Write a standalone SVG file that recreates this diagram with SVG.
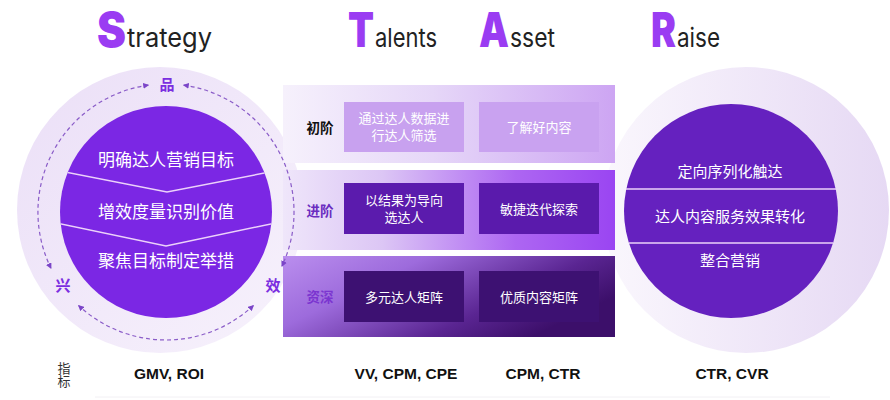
<svg xmlns="http://www.w3.org/2000/svg" width="890" height="400" viewBox="0 0 890 400">
<defs>
<style>
.big{font-family:Inter,"Liberation Sans",sans-serif;font-weight:900;font-size:48px;fill:#9a3cf2}
.sm{font-family:Inter,"Liberation Sans",sans-serif;font-weight:400;font-size:26px;fill:#222}
.cn{font-family:"Noto Sans CJK SC","Noto Sans",sans-serif}
.ctext{font-size:17px;fill:#fff;text-anchor:middle}
.rtext{font-size:15px;fill:#fff;text-anchor:middle}
.btext{font-size:13px;fill:#fff;text-anchor:middle}
.lbl{font-size:13.5px;font-weight:700;text-anchor:middle}
.mark{font-size:15px;font-weight:700;fill:#7b2ee0;text-anchor:middle}
.metric{font-family:"Liberation Sans",Arial,sans-serif;font-weight:700;font-size:15.5px;fill:#111;text-anchor:middle}
.dash{fill:none;stroke:#8a5cc8;stroke-width:1.2;stroke-dasharray:4 3;marker-start:url(#ah);marker-end:url(#ah)}
.div{fill:none;stroke:#ecd2fa;stroke-width:1.5}
</style>
<marker id="ah" viewBox="0 0 6 6" refX="5" refY="3" markerWidth="6" markerHeight="6" markerUnits="userSpaceOnUse" orient="auto-start-reverse">
<path d="M0,0 L6,3 L0,6 z" fill="#7b45c8"/>
</marker>
<linearGradient id="gL" x1="0" y1="0" x2="1" y2="1">
<stop offset="0" stop-color="#ebdff7"/><stop offset="1" stop-color="#f7f2fc"/>
</linearGradient>
<linearGradient id="gR" x1="0" y1="0" x2="1" y2="0">
<stop offset="0" stop-color="#faf7fd"/><stop offset="1" stop-color="#e6d9f4"/>
</linearGradient>
<linearGradient id="g1" x1="0" y1="0" x2="1" y2="0">
<stop offset="0" stop-color="#f6f1fc"/><stop offset="0.45" stop-color="#e6d7f8"/><stop offset="1" stop-color="#cda5f3"/>
</linearGradient>
<linearGradient id="g2" x1="0" y1="0" x2="1" y2="0">
<stop offset="0" stop-color="#efe6fa"/><stop offset="0.3" stop-color="#dcc6f5"/><stop offset="0.7" stop-color="#ad66f2"/><stop offset="1" stop-color="#9a45f2"/>
</linearGradient>
<linearGradient id="g3" x1="0" y1="0" x2="1" y2="0.5">
<stop offset="0" stop-color="#ba8eee"/><stop offset="0.35" stop-color="#9d6bdc"/><stop offset="0.75" stop-color="#5a2592"/><stop offset="1" stop-color="#3c0f6a"/>
</linearGradient>
<clipPath id="cl"><circle cx="166" cy="212" r="106"/></clipPath>
</defs>
<rect width="890" height="400" fill="#fff"/>

<!-- titles -->
<g id="title-strategy">
<text class="big" x="97" y="47" textLength="29" lengthAdjust="spacingAndGlyphs">S</text>
<text class="sm" x="127" y="47" textLength="85" lengthAdjust="spacingAndGlyphs">trategy</text>
</g>
<g id="title-talents">
<text class="big" x="348" y="47" textLength="26" lengthAdjust="spacingAndGlyphs">T</text>
<text class="sm" x="375" y="47" textLength="62" lengthAdjust="spacingAndGlyphs">alents</text>
</g>
<g id="title-asset">
<text class="big" x="479" y="47" textLength="30" lengthAdjust="spacingAndGlyphs">A</text>
<text class="sm" x="510" y="47" textLength="45" lengthAdjust="spacingAndGlyphs">sset</text>
</g>
<g id="title-raise">
<text class="big" x="651" y="47" textLength="25" lengthAdjust="spacingAndGlyphs">R</text>
<text class="sm" x="677" y="47" textLength="43" lengthAdjust="spacingAndGlyphs">aise</text>
</g>

<!-- left circle -->
<g id="strategy-circle">
<circle cx="160" cy="210" r="143" fill="url(#gL)"/>
<circle cx="166" cy="212" r="106" fill="#7b27e4"/>
<g clip-path="url(#cl)">
<path class="div" d="M55,170 L167,192 L280,170"/>
<path class="div" d="M52,222 L166,246 L280,222"/>
</g>
<g class="cn">
<text class="ctext" x="166" y="166">明确达人营销目标</text>
<text class="ctext" x="166" y="218">增效度量识别价值</text>
<text class="ctext" x="166" y="267">聚焦目标制定举措</text>
</g>
</g>

<!-- right circle -->
<g id="raise-circle">
<circle cx="746" cy="210" r="143" fill="url(#gR)"/>
<circle cx="731" cy="211" r="107" fill="#6521bf"/>
<line class="div" x1="626" y1="189" x2="836" y2="189"/>
<line class="div" x1="629" y1="243" x2="833" y2="243"/>
<g class="cn">
<text class="rtext" x="730" y="177">定向序列化触达</text>
<text class="rtext" x="730" y="222">达人内容服务效果转化</text>
<text class="rtext" x="730" y="266">整合营销</text>
</g>
</g>

<!-- central panel -->
<g id="row-1" class="cn">
<rect x="283" y="85" width="332" height="78" fill="url(#g1)"/>
<text class="lbl" x="320" y="133" fill="#111">初阶</text>
<rect x="344" y="102" width="120" height="50" fill="#c8a1ef"/>
<text class="btext" x="404" y="123" fill="#fbf7ff">通过达人数据进<tspan x="404" dy="17">行达人筛选</tspan></text>
<rect x="479" y="102" width="120" height="50" fill="#c9a2f0"/>
<text class="btext" x="539" y="132" fill="#fbf7ff">了解好内容</text>
</g>
<g id="row-2" class="cn">
<rect x="283" y="170" width="332" height="80" fill="url(#g2)"/>
<text class="lbl" x="320" y="216" fill="#6b2dc0">进阶</text>
<rect x="344" y="183" width="120" height="51" fill="#5b1bad"/>
<text class="btext" x="404" y="205">以结果为导向<tspan x="404" dy="17">选达人</tspan></text>
<rect x="479" y="183" width="120" height="51" fill="#5a1aac"/>
<text class="btext" x="539" y="214">敏捷迭代探索</text>
</g>
<g id="row-3" class="cn">
<rect x="283" y="256" width="332" height="81" fill="url(#g3)"/>
<text class="lbl" x="320" y="302" fill="#7b35d0">资深</text>
<rect x="344" y="271" width="120" height="51" fill="#3d1172"/>
<text class="btext" x="404" y="302">多元达人矩阵</text>
<rect x="479" y="271" width="120" height="51" fill="#3d1172"/>
<text class="btext" x="539" y="302">优质内容矩阵</text>
</g>

<!-- cycle labels -->
<g id="label-pin" class="cn"><text class="mark" x="167" y="90">品</text></g>
<g id="label-xing" class="cn"><text class="mark" x="63" y="291">兴</text></g>
<g id="label-xiao" class="cn"><text class="mark" x="273" y="291">效</text></g>

<!-- connectors -->
<g id="connectors">
<path class="dash" d="M148.2,85.2 A128,128 0 0 0 50.9,268.1"/>
<path class="dash" d="M183.8,85.2 A128,128 0 0 1 282,266.1"/>
<path class="dash" d="M253.3,305.6 A128,128 0 0 1 78.7,305.6"/>
</g>

<!-- metrics -->
<g id="metrics">
<text class="cn" x="64" y="362" font-size="13" fill="#333" writing-mode="tb" glyph-orientation-vertical="0">指标</text>
<text class="metric" x="169" y="379">GMV, ROI</text>
<text class="metric" x="406" y="379">VV, CPM, CPE</text>
<text class="metric" x="543" y="379">CPM, CTR</text>
<text class="metric" x="732" y="379">CTR, CVR</text>
<line x1="95" y1="397" x2="830" y2="397" stroke="#f2f0f4" stroke-width="1"/>
</g>
</svg>
